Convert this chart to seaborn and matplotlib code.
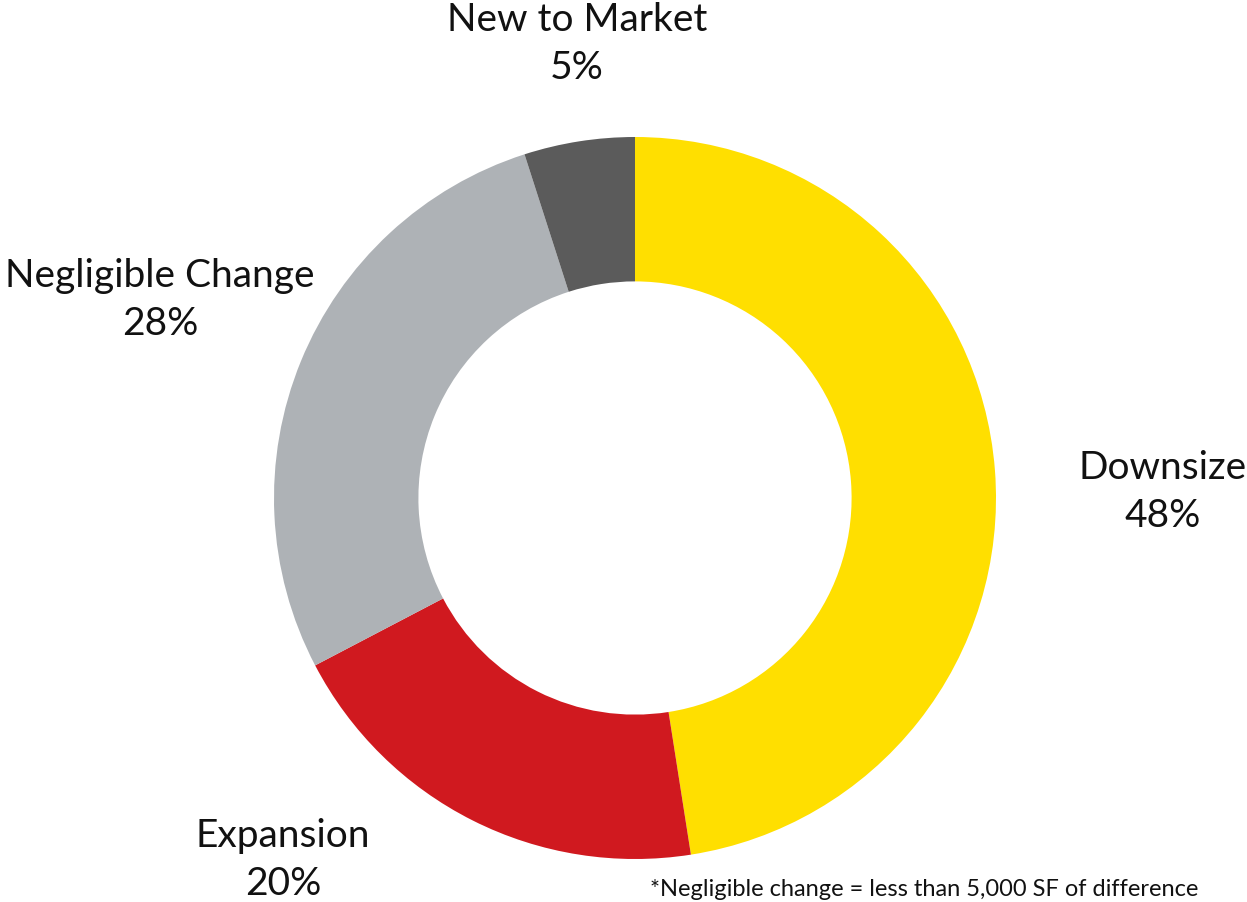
import matplotlib
matplotlib.use("Agg")
import matplotlib.pyplot as plt
import seaborn as sns

sns.set_theme(style="white")
plt.rcParams["font.family"] = ["Lato", "DejaVu Sans"]

categories = ["Downsize", "Expansion", "Negligible Change", "New to Market"]
shares = [48, 20, 28, 5]
colors = ["#FFDF00", "#D0191F", "#AEB2B6", "#5B5B5B"]
footnote = "*Negligible change = less than 5,000 SF of difference"

fig = plt.figure(figsize=(12.47, 9.02), dpi=100)
ax = fig.add_axes([0, 0, 1, 1])

cx, cy, r = 635, 404, 361
ax.pie(shares, colors=colors, startangle=90, counterclock=False,
       center=(cx, cy), radius=r, frame=True,
       wedgeprops=dict(width=r * 0.4, edgecolor="none", linewidth=0))
ax.set_xlim(0, 1247)
ax.set_ylim(0, 902)
ax.set_aspect("equal")
ax.axis("off")

# centre of each two-line label block, in figure pixel space (origin bottom-left)
label_pos = {
    "Downsize": (1163, 410),
    "Expansion": (283, 42),
    "Negligible Change": (160, 602),
    "New to Market": (577, 858),
}
for cat, val in zip(categories, shares):
    x, y = label_pos[cat]
    ax.text(x, y, f"{cat}\n{val}%", ha="center", va="center",
            fontsize=28, color="#111111", linespacing=1.42)

ax.text(650, 2, footnote, ha="left", va="bottom", fontsize=17,
        color="#111111")

fig.savefig("out.png", dpi=100, facecolor="white")
